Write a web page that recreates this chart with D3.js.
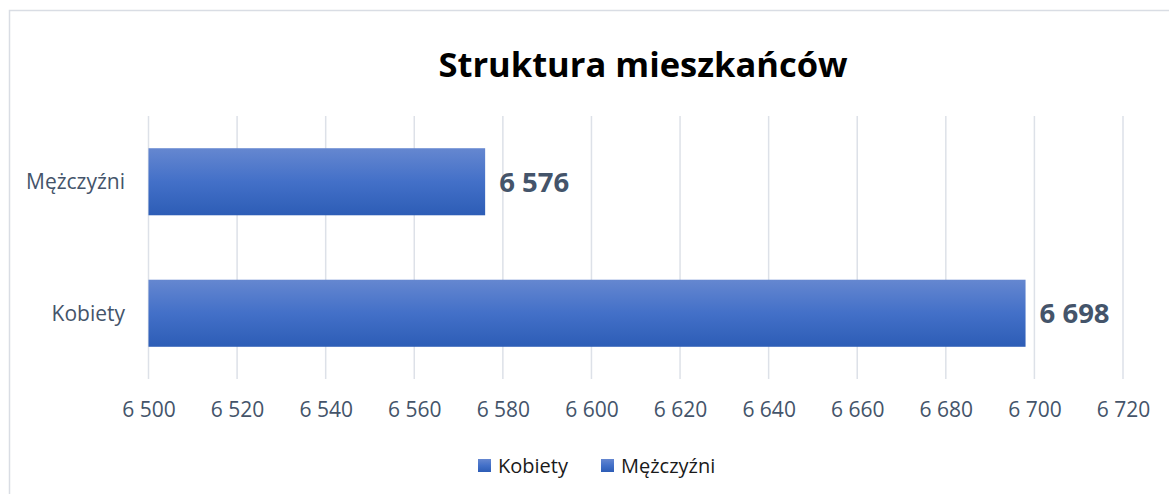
<!DOCTYPE html>
<html>
<head>
<meta charset="utf-8">
<script src="https://cdn.jsdelivr.net/npm/d3@7"></script>
<style>
  html, body { margin: 0; padding: 0; background: #fff; }
  svg { display: block; }
</style>
</head>
<body>
<script>
const categories = ["Mężczyźni", "Kobiety"];
const values = [6576, 6698];
const legendOrder = ["Kobiety", "Mężczyźni"];
const tickValues = [6500, 6520, 6540, 6560, 6580, 6600, 6620, 6640, 6660, 6680, 6700, 6720];
const title = "Struktura mieszkańców";

const W = 1169, H = 494;
const FONT = "'Open Sans', 'Noto Sans', sans-serif";
const svg = d3.select("body").append("svg").attr("width", W).attr("height", H);

const defs = svg.append("defs");
const grad = defs.append("linearGradient").attr("id", "barGrad")
  .attr("x1", 0).attr("y1", 0).attr("x2", 0).attr("y2", 1);
grad.append("stop").attr("offset", "0%").attr("stop-color", "#6587D0");
grad.append("stop").attr("offset", "50%").attr("stop-color", "#4370C8");
grad.append("stop").attr("offset", "100%").attr("stop-color", "#2D5DB6");

// chart border
svg.append("rect").attr("x", 9.5).attr("y", 10.5).attr("width", W + 10).attr("height", H + 10)
  .attr("fill", "#fff").attr("stroke", "#D9DDE4").attr("stroke-width", 1.5);

const x = d3.scaleLinear().domain([6500, 6720]).range([148.5, 1123]);
const y = d3.scaleBand().domain(categories).range([116, 379]).paddingInner(0.49).paddingOuter(0.245);

// gridlines
svg.append("g").selectAll("line").data(tickValues).join("line")
  .attr("x1", d => x(d)).attr("x2", d => x(d))
  .attr("y1", 116).attr("y2", 379)
  .attr("stroke", "#DDE1E8").attr("stroke-width", 1.5);

// x axis labels via d3 axis
const xAxis = d3.axisBottom(x).tickValues(tickValues)
  .tickSize(0).tickPadding(0)
  .tickFormat(d => d3.format(",")(d).replace(/,/g, " "));
const gx = svg.append("g").attr("transform", "translate(0,402)").call(xAxis);
gx.select(".domain").remove();
gx.selectAll("text").attr("font-family", FONT).attr("font-size", 21)
  .attr("fill", "#44546A").attr("dy", "0.71em");

// y axis labels
const yAxis = d3.axisLeft(y).tickSize(0).tickPadding(0);
const gy = svg.append("g").attr("transform", "translate(125,0)").call(yAxis);
gy.select(".domain").remove();
gy.selectAll("text").attr("font-family", FONT).attr("font-size", 21)
  .attr("fill", "#44546A").attr("dy", "0.35em");

// bars
svg.append("g").selectAll("rect").data(categories).join("rect")
  .attr("x", x(6500))
  .attr("y", d => y(d))
  .attr("width", (d, i) => x(values[i]) - x(6500))
  .attr("height", y.bandwidth())
  .attr("fill", "url(#barGrad)");

// value labels
svg.append("g").selectAll("text").data(categories).join("text")
  .attr("x", (d, i) => x(values[i]) + 14)
  .attr("y", d => y(d) + y.bandwidth() / 2)
  .attr("dy", "0.36em")
  .attr("font-family", FONT).attr("font-weight", "bold").attr("font-size", 27.5)
  .attr("fill", "#44546A")
  .text((d, i) => d3.format(",")(values[i]).replace(/,/g, " "));

// title
svg.append("text").attr("x", 643).attr("y", 77)
  .attr("text-anchor", "middle")
  .attr("font-family", FONT).attr("font-weight", "bold").attr("font-size", 34.5)
  .attr("fill", "#000").text(title);

// legend
const legendX = [478, 601];
const lg = svg.append("g").selectAll("g").data(legendOrder).join("g")
  .attr("transform", (d, i) => `translate(${legendX[i]},459)`);
lg.append("rect").attr("width", 13).attr("height", 13).attr("fill", "url(#barGrad)");
lg.append("text").attr("x", 20).attr("y", 6.5).attr("dy", "0.36em")
  .attr("font-family", FONT).attr("font-size", 20).attr("fill", "#1a1a1a")
  .text(d => d);
</script>
</body>
</html>
